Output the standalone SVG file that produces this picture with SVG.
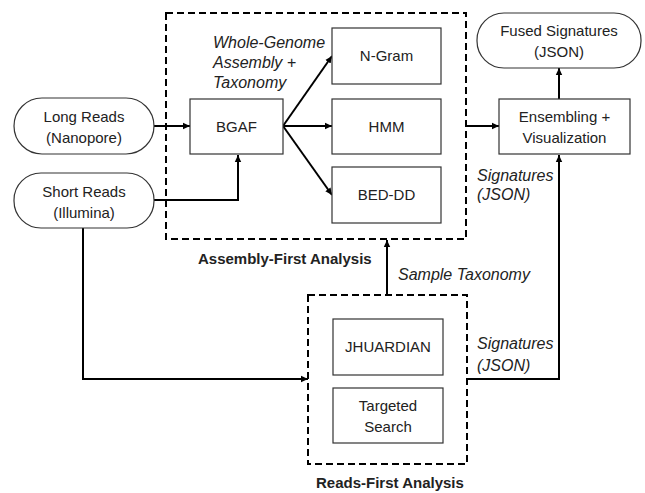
<svg xmlns="http://www.w3.org/2000/svg" width="645" height="493" viewBox="0 0 645 493">
<defs>
<marker id="ah" markerWidth="8" markerHeight="8" refX="7" refY="4" orient="auto" markerUnits="userSpaceOnUse">
<path d="M0,0.8 L7,4 L0,7.2 Z" fill="#000"/>
</marker>
<style>
text{font-family:"Liberation Sans",Arial,sans-serif;font-size:15px;fill:#222;}
.c{text-anchor:middle;}
.i{font-style:italic;font-size:16px;}
.b{font-weight:bold;}
.box{fill:#fff;stroke:#333;stroke-width:1.2;}
.dash{fill:none;stroke:#000;stroke-width:2;stroke-dasharray:7,4;}
.ln{fill:none;stroke:#000;stroke-width:2;}
</style>
</defs>
<rect width="645" height="493" fill="#fff"/>
<g id="assembly-first">
<rect class="dash" x="166" y="13" width="300" height="226"/>
<text class="b" x="198" y="264">Assembly-First Analysis</text>
</g>
<g id="reads-first">
<rect class="dash" x="308" y="295" width="159" height="169"/>
<text class="b" x="316" y="488">Reads-First Analysis</text>
</g>
<g id="connectors">
<line class="ln" x1="154" y1="126" x2="190" y2="126" marker-end="url(#ah)"/>
<polyline class="ln" points="154,200 238,200 238,155" marker-end="url(#ah)"/>
<line class="ln" x1="283" y1="126" x2="332" y2="56" marker-end="url(#ah)"/>
<line class="ln" x1="283" y1="126" x2="332" y2="126" marker-end="url(#ah)"/>
<line class="ln" x1="283" y1="126" x2="332" y2="195" marker-end="url(#ah)"/>
<line class="ln" x1="466" y1="126" x2="499" y2="126" marker-end="url(#ah)"/>
<line class="ln" x1="559" y1="99" x2="559" y2="68" marker-end="url(#ah)"/>
<polyline class="ln" points="467,379 559,379 559,155" marker-end="url(#ah)"/>
<polyline class="ln" points="83,228 83,379 308,379" marker-end="url(#ah)"/>
<line class="ln" x1="387" y1="295" x2="387" y2="240" marker-end="url(#ah)"/>
<text class="i" x="213" y="48">Whole-Genome</text>
<text class="i" x="213" y="68">Assembly +</text>
<text class="i" x="213" y="88">Taxonomy</text>
<text class="i" x="477" y="181">Signatures</text>
<text class="i" x="477" y="200">(JSON)</text>
<text class="i" x="398" y="280">Sample Taxonomy</text>
<text class="i" x="477" y="349">Signatures</text>
<text class="i" x="477" y="371">(JSON)</text>
</g>
<g id="long-reads">
<rect class="box" x="14" y="98" width="140" height="56" rx="28"/>
<text class="c" x="84" y="122">Long Reads</text>
<text class="c" x="84" y="143">(Nanopore)</text>
</g>
<g id="short-reads">
<rect class="box" x="14" y="173" width="140" height="55" rx="27"/>
<text class="c" x="84" y="197">Short Reads</text>
<text class="c" x="84" y="218">(Illumina)</text>
</g>
<g id="bgaf">
<rect class="box" x="190" y="99" width="93" height="55"/>
<text class="c" x="236.5" y="132">BGAF</text>
</g>
<g id="ngram">
<rect class="box" x="332" y="28" width="109" height="56"/>
<text class="c" x="386.5" y="61">N-Gram</text>
</g>
<g id="hmm">
<rect class="box" x="332" y="99" width="109" height="55"/>
<text class="c" x="386.5" y="132">HMM</text>
</g>
<g id="bed-dd">
<rect class="box" x="332" y="167" width="109" height="56"/>
<text class="c" x="386.5" y="200">BED-DD</text>
</g>
<g id="fused">
<rect class="box" x="477" y="13" width="164" height="55" rx="27"/>
<text class="c" x="559" y="36">Fused Signatures</text>
<text class="c" x="559" y="57">(JSON)</text>
</g>
<g id="ensembling">
<rect class="box" x="499" y="99" width="131" height="55"/>
<text class="c" x="564.5" y="122">Ensembling +</text>
<text class="c" x="564.5" y="143">Visualization</text>
</g>
<g id="jhuardian">
<rect class="box" x="333" y="319" width="110" height="56"/>
<text class="c" x="388" y="352">JHUARDIAN</text>
</g>
<g id="targeted">
<rect class="box" x="333" y="388" width="110" height="55"/>
<text class="c" x="388" y="411">Targeted</text>
<text class="c" x="388" y="432">Search</text>
</g>
</svg>
